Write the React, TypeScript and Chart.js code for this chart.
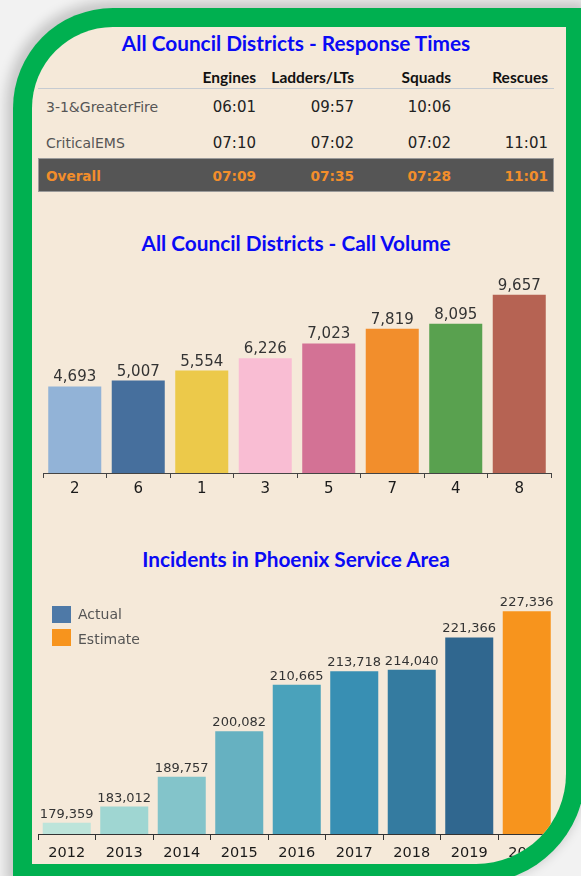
import React, { useEffect, useRef } from 'react';
import { Chart, registerables } from 'chart.js';
Chart.register(...registerables);

// ---------- data ----------
const tableTitle = 'All Council Districts - Response Times';
const tableColumns = ['Engines', 'Ladders/LTs', 'Squads', 'Rescues'];
const rowLabels = ['3-1&GreaterFire', 'CriticalEMS'];
const fireTimes = ['06:01', '09:57', '10:06', ''];
const emsTimes = ['07:10', '07:02', '07:02', '11:01'];
const overallLabel = 'Overall';
const overallTimes = ['07:09', '07:35', '07:28', '11:01'];

const callTitle = 'All Council Districts - Call Volume';
const districts = ['2', '6', '1', '3', '5', '7', '4', '8'];
const callVolume = [4693, 5007, 5554, 6226, 7023, 7819, 8095, 9657];
const districtColors = ['#92b3d7', '#466f9d', '#ecc94a', '#f9bdd3', '#d37295', '#f28e2c', '#59a14f', '#b66353'];

const incidentsTitle = 'Incidents in Phoenix Service Area';
const years = ['2012', '2013', '2014', '2015', '2016', '2017', '2018', '2019', '2020'];
const actualIncidents = [179359, 183012, 189757, 200082, 210665, 213718, 214040, 221366, null];
const estimateIncidents = [null, null, null, null, null, null, null, null, 227336];
const yearColors = ['#bde4da', '#9fd6d2', '#83c4ca', '#66b1c1', '#4aa2bb', '#388fb3', '#347ba0', '#30678f', '#f7941d'];
const legendLabels = ['Actual', 'Estimate'];
const legendColors = ['#4e79a7', '#f7941d'];

// ---------- style constants ----------
const BEIGE = '#f5e9d9';
const GREEN = '#00b050';
const BLUE = '#0a0af5';
const ORANGE = '#f28e2b';
const DV = "'DejaVu Sans', sans-serif";
const LATO = "Lato, 'DejaVu Sans', sans-serif";

function valueLabels(font: string, offset: number) {
  return {
    id: 'valueLabels',
    afterDatasetsDraw(chart: any) {
      const ctx = chart.ctx;
      ctx.save();
      ctx.font = font;
      ctx.fillStyle = '#333';
      ctx.textAlign = 'center';
      ctx.textBaseline = 'alphabetic';
      chart.data.datasets.forEach((ds: any, di: number) => {
        const meta = chart.getDatasetMeta(di);
        meta.data.forEach((el: any, i: number) => {
          const v = ds.data[i];
          if (v == null) return;
          ctx.fillText(Number(v).toLocaleString('en-US'), el.x, el.y - offset);
        });
      });
      ctx.restore();
    },
  };
}

function CallChart() {
  const ref = useRef<HTMLCanvasElement>(null);
  useEffect(() => {
    const chart = new Chart(ref.current!, {
      type: 'bar',
      data: {
        labels: districts,
        datasets: [
          {
            data: callVolume,
            backgroundColor: districtColors,
            barPercentage: 0.835,
            categoryPercentage: 1,
          },
        ],
      },
      options: {
        animation: false,
        responsive: false,
        maintainAspectRatio: false,
        layout: { padding: { left: 11, right: 15, top: 33.5, bottom: 0 } },
        plugins: { legend: { display: false }, tooltip: { enabled: false } },
        scales: {
          x: {
            grid: { display: true, drawOnChartArea: false, drawTicks: true, tickLength: 5, color: '#444', offset: true },
            border: { display: true, color: '#444', width: 1 },
            ticks: { font: { family: 'DejaVu Sans', size: 15 }, color: '#1a1a1a', padding: 2, maxRotation: 0, autoSkip: false },
            afterFit: (s: any) => {
              s.height = 27;
            },
          },
          y: { display: false, min: 0, max: 10000 },
        },
      },
      plugins: [valueLabels("15px 'DejaVu Sans'", 5)],
    } as any);
    return () => chart.destroy();
  }, []);
  return <canvas ref={ref} width={534} height={245} style={{ position: 'absolute', left: 0, top: 228, width: 534, height: 245 }} />;
}

function IncidentsChart() {
  const ref = useRef<HTMLCanvasElement>(null);
  useEffect(() => {
    const chart = new Chart(ref.current!, {
      type: 'bar',
      data: {
        labels: years,
        datasets: [
          {
            label: legendLabels[0],
            data: actualIncidents,
            backgroundColor: yearColors,
            barPercentage: 0.835,
            categoryPercentage: 1,
            grouped: false,
          },
          {
            label: legendLabels[1],
            data: estimateIncidents,
            backgroundColor: yearColors,
            barPercentage: 0.835,
            categoryPercentage: 1,
            grouped: false,
          },
        ],
      },
      options: {
        animation: false,
        responsive: false,
        maintainAspectRatio: false,
        layout: { padding: { left: 6, right: 10.5, top: 14.4, bottom: 0 } },
        plugins: { legend: { display: false }, tooltip: { enabled: false } },
        scales: {
          x: {
            grid: { display: true, drawOnChartArea: false, drawTicks: true, tickLength: 6, color: '#333', offset: true },
            border: { display: true, color: '#333', width: 1 },
            ticks: { font: { family: 'DejaVu Sans', size: 14.5 }, color: '#1a1a1a', padding: 5, maxRotation: 0, autoSkip: false },
            afterFit: (s: any) => {
              s.height = 42;
            },
          },
          y: { display: false, min: 176800, max: 230000 },
        },
      },
      plugins: [valueLabels("13px 'DejaVu Sans'", 5)],
    } as any);
    return () => chart.destroy();
  }, []);
  return <canvas ref={ref} width={534} height={291} style={{ position: 'absolute', left: 0, top: 558, width: 534, height: 291 }} />;
}

const center = (x: number, y: number): React.CSSProperties => ({
  position: 'absolute',
  left: x,
  top: y,
  transform: 'translate(-50%,-50%)',
  whiteSpace: 'nowrap',
  lineHeight: 1,
});
const rightAt = (x: number, y: number): React.CSSProperties => ({
  position: 'absolute',
  left: x,
  top: y,
  transform: 'translate(-100%,-50%)',
  whiteSpace: 'nowrap',
  lineHeight: 1,
});
const leftAt = (x: number, y: number): React.CSSProperties => ({
  position: 'absolute',
  left: x,
  top: y,
  transform: 'translate(0,-50%)',
  whiteSpace: 'nowrap',
  lineHeight: 1,
});

const colRights = [224, 322, 419, 516];
const titleStyle: React.CSSProperties = { fontFamily: LATO, fontWeight: 700, fontSize: 20.8, color: BLUE };

export default function App() {
  return (
    <div
      style={{
        position: 'fixed',
        left: 0,
        top: 0,
        width: 581,
        height: 876,
        overflow: 'hidden',
        background: '#f2f2f2',
      }}
    >
      <div
        style={{
          position: 'absolute',
          left: 13,
          top: 8,
          width: 572,
          height: 875,
          background: GREEN,
          borderRadius: '100px 0 109px 0',
          boxShadow: '-3px -3px 12px 4px rgba(0,0,0,0.18)',
        }}
      >
        <div
          style={{
            position: 'absolute',
            left: 19,
            top: 19,
            width: 534,
            height: 837,
            background: BEIGE,
            borderRadius: '81px 0 90px 0',
            overflow: 'hidden',
          }}
        >
          {/* Response times table */}
          <div style={{ ...center(264, 16), ...titleStyle }}>{tableTitle}</div>
          {tableColumns.map((c, i) => (
            <div key={c} style={{ ...rightAt(colRights[i], 51), fontFamily: LATO, fontWeight: 700, fontSize: 15.5, color: '#111' }}>
              {c}
            </div>
          ))}
          <div style={{ position: 'absolute', left: 6, top: 61, width: 516, height: 1, background: '#c6cbd1' }} />
          {[fireTimes, emsTimes].map((row, r) => (
            <React.Fragment key={r}>
              <div style={{ ...leftAt(14, 80 + r * 36), fontFamily: DV, fontSize: 14, color: '#555' }}>{rowLabels[r]}</div>
              {row.map((v, i) => (
                <div key={i} style={{ ...rightAt(colRights[i], 80 + r * 36), fontFamily: DV, fontSize: 15, color: '#222' }}>
                  {v}
                </div>
              ))}
            </React.Fragment>
          ))}
          <div
            style={{
              position: 'absolute',
              left: 6,
              top: 131,
              width: 516,
              height: 34,
              background: '#555555',
              boxSizing: 'border-box',
              border: '1px solid #9a9a9a',
            }}
          />
          <div style={{ ...leftAt(14, 150), fontFamily: DV, fontWeight: 700, fontSize: 13.6, color: ORANGE }}>{overallLabel}</div>
          {overallTimes.map((v, i) => (
            <div key={i} style={{ ...rightAt(colRights[i], 150), fontFamily: DV, fontWeight: 700, fontSize: 13.7, color: ORANGE }}>
              {v}
            </div>
          ))}

          {/* Call volume chart */}
          <div style={{ ...center(264, 216), ...titleStyle }}>{callTitle}</div>
          <CallChart />

          {/* Incidents chart */}
          <div style={{ ...center(264, 532), ...titleStyle }}>{incidentsTitle}</div>
          <IncidentsChart />
          {legendLabels.map((l, i) => (
            <React.Fragment key={l}>
              <div
                style={{
                  position: 'absolute',
                  left: 20,
                  top: 579 + i * 23,
                  width: 19,
                  height: 17,
                  background: legendColors[i],
                }}
              />
              <div style={{ ...leftAt(46, 587 + i * 25), fontFamily: DV, fontSize: 14, color: '#555' }}>{l}</div>
            </React.Fragment>
          ))}
        </div>
      </div>
    </div>
  );
}
